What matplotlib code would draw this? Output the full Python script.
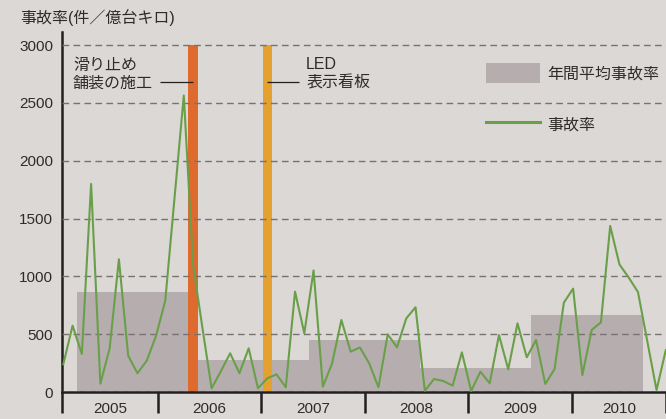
import numpy as np
import matplotlib.pyplot as plt
from matplotlib.patches import Patch
from matplotlib.lines import Line2D

plt.rcParams['font.family'] = ['Liberation Sans', 'Noto Sans CJK JP']

# monthly accident rate (件/億台キロ)
rate = [240, 574, 329, 1800, 72, 378, 1148, 314, 162, 271, 484, 790,
        1680, 2565, 1100, 560, 32, 180, 335, 162, 378, 32, 118, 153,
        41, 868, 508, 1052, 46, 248, 623, 349, 385, 248, 41, 499,
        386, 637, 733, 11, 112, 95, 55, 343, 9, 176, 75, 493,
        196, 594, 300, 450, 69, 199, 773, 894, 147, 536, 603, 1436,
        1103, 990, 864, 440, 17, 363]
months = np.arange(len(rate))

# annual average blocks (start month index, 12 months wide)
avg_start = [1.5, 14.5, 26.5, 38.5, 50.5]
avg_value = [865, 277, 450, 210, 666]
avg_width = 12

# events: anti-skid paving, LED sign
event_month = [14, 22]
event_height = 3000
event_label = ['滑り止め\n舗装の施工', 'LED\n表示看板']

# year axis
years = ['2005', '2006', '2007', '2008', '2009', '2010']
year_edges = [-0.14, 10.22, 21.33, 32.55, 43.66, 54.88, 65.02]

bg = '#dcd8d5'
block_c = '#b6aeae'
green = '#6a9f4a'
event_c = ['#df6a2e', '#e4a12f']
dark = '#231f20'
txt = '#2e2c2b'

fig = plt.figure(figsize=(6.66, 4.19), dpi=100)
fig.patch.set_facecolor(bg)
ax = fig.add_axes([62 / 666, 27 / 419, 604 / 666, 360 / 419])
ax.set_facecolor(bg)

ax.bar(avg_start, avg_value, width=avg_width, align='edge', color=block_c, zorder=1)
ax.bar(event_month, [event_height] * 2, width=1.0, color=event_c, zorder=1.5)
ax.plot(months, rate, color=green, lw=1.5, zorder=3)

ax.set_xlim(year_edges[0], year_edges[-1])
ax.set_ylim(0, 3114)

# grid
ax.set_axisbelow(False)
ax.yaxis.grid(True, color='#77726f', lw=1.0, linestyle=(0, (4.8, 3.1)))

for s in ['top', 'right']:
    ax.spines[s].set_visible(False)
for s in ['left', 'bottom']:
    ax.spines[s].set_color(dark)
    ax.spines[s].set_linewidth(1.8)

ax.set_yticks(range(0, 3001, 500))
ax.tick_params(axis='y', length=0, pad=6.5, labelsize=11, labelcolor=txt)

ax.set_xticks(year_edges)
ax.set_xticklabels([])
ax.tick_params(axis='x', which='major', length=15, width=1.8, color=dark, direction='out')
centers = [(a + b) / 2 for a, b in zip(year_edges[:-1], year_edges[1:])]
ax.set_xticks(centers, minor=True)
ax.set_xticklabels(years, minor=True)
ax.tick_params(axis='x', which='minor', length=0, pad=7, labelsize=11, labelcolor=txt)

# event labels with leader lines
ax.text(1.05, 2750, event_label[0], ha='left', va='center', fontsize=11.5,
        color=txt, linespacing=1.25)
ax.hlines(2680, 10.4, event_month[0], color=dark, lw=0.9, zorder=4)
ax.text(26.2, 2750, event_label[1], ha='left', va='center', fontsize=11.5,
        color=txt, linespacing=1.25)
ax.hlines(2680, event_month[1], 25.4, color=dark, lw=0.9, zorder=4)

handles = [Patch(facecolor=block_c, edgecolor='none'),
           Line2D([], [], color=green, lw=2.2)]
ax.legend(handles, ['年間平均事故率', '事故率'], loc='upper left',
          bbox_to_anchor=(0.702, 0.914), frameon=False, borderpad=0,
          borderaxespad=0, handlelength=3.4, handleheight=1.56,
          handletextpad=0.44, labelspacing=1.96, fontsize=11.5,
          labelcolor=txt)

fig.text(20 / 666, 1 - 17.5 / 419, '事故率(件／億台キロ)', ha='left', va='center',
         fontsize=11.5, color=txt)

fig.savefig('out.png', dpi=100, facecolor=bg)
